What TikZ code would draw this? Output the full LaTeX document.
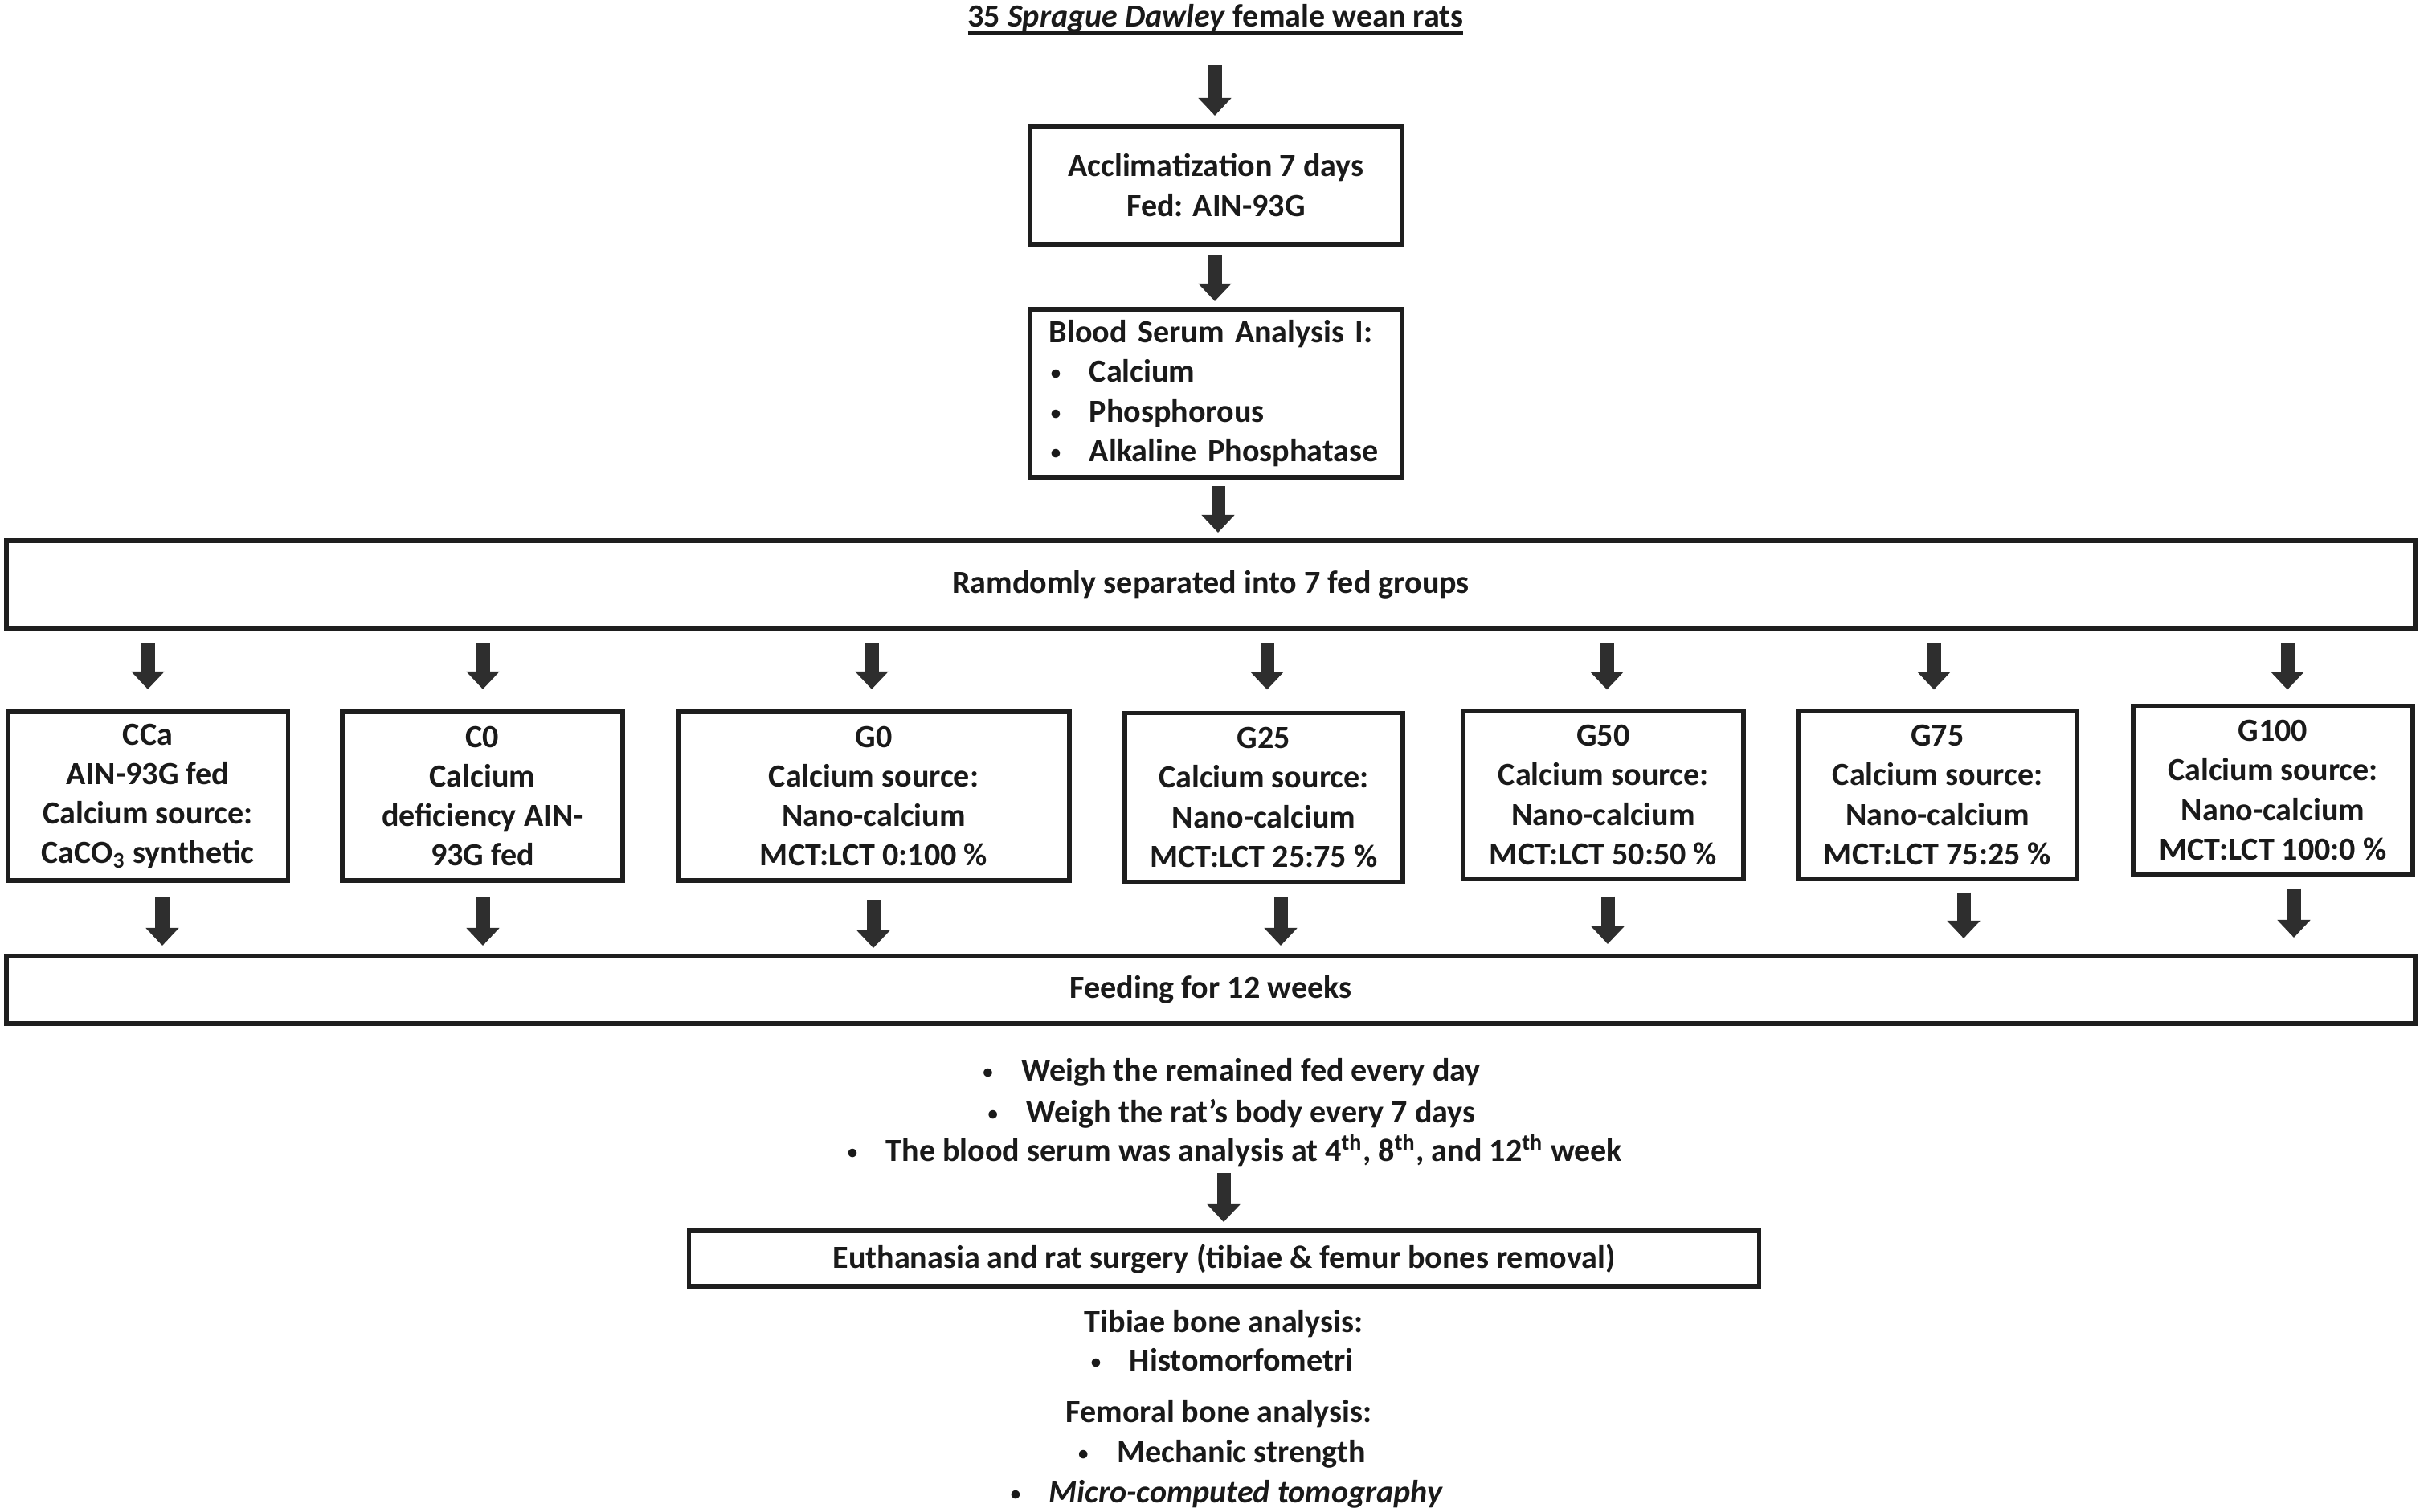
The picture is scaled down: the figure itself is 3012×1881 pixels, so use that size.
\documentclass[tikz,border=0pt]{standalone}
\usepackage{fontspec}
\setmainfont{Carlito}
\usetikzlibrary{arrows.meta}
\definecolor{txt}{HTML}{1A1A1A}
\definecolor{bord}{HTML}{1E1E1E}
\definecolor{arr}{HTML}{2E2E2E}
\newcommand{\bul}{\makebox[0.50cm][l]{\hspace*{0.02cm}\raisebox{0.03cm}{\scalebox{0.62}{•}}}}
\begin{document}
\begin{tikzpicture}[x=0.01cm,y=-0.01cm,
  every node/.style={font=\fontsize{11.4}{14}\selectfont\bfseries, text=txt, inner sep=0pt, outer sep=0pt},
  box/.style={draw=bord, line width=1.6pt, align=center},
  grp/.style={box, minimum width=3.49cm, minimum height=2.10cm},
  blk/.style={draw=arr, line width=0.17cm, -{Triangle[length=0.22cm,width=0.40cm]}},
  line/.style={anchor=base}
]
\useasboundingbox (0,0) rectangle (3012,1881);

% title
\node[line] (t) at (1513,33) {35 \textit{Sprague Dawley} female wean rats};
\draw[draw=txt, line width=1.2pt] ([yshift=-0.08cm]t.base west) -- ([yshift=-0.08cm]t.base east);

% top boxes
\node[box, minimum width=4.63cm, minimum height=1.47cm] (b1) at (1513.5,230.5) {Acclimatization 7 days\\Fed: AIN-93G};
\node[box, minimum width=4.63cm, minimum height=2.09cm, text width=4.15cm, align=left] (b2) at (1513.5,489.5)
  {Blood Serum Analysis I:\\\bul Calcium\\\bul Phosphorous\\\bul Alkaline Phosphatase};
\node[box, minimum width=29.96cm, minimum height=1.09cm] (sep) at (1507,727.5) {Ramdomly separated into 7 fed groups};

% group boxes
\node[grp] (cca) at (184,991) {CCa\\AIN-93G fed\\Calcium source:\\CaCO\textsubscript{3} synthetic};
\node[grp] (c0) at (600.5,991) {C0\\Calcium\\deficiency AIN-\\93G fed};
\node[grp, minimum width=4.87cm] (g0) at (1087.5,991) {G0\\Calcium source:\\Nano-calcium\\MCT:LCT 0:100 \%};
\node[grp, minimum width=3.46cm] (g25) at (1573,992.5) {G25\\Calcium source:\\Nano-calcium\\MCT:LCT 25:75 \%};
\node[grp] (g50) at (1995.5,989.5) {G50\\Calcium source:\\Nano-calcium\\MCT:LCT 50:50 \%};
\node[grp, minimum width=3.47cm] (g75) at (2411.5,989.5) {G75\\Calcium source:\\Nano-calcium\\MCT:LCT 75:25 \%};
\node[grp, minimum width=3.48cm] (g100) at (2829,983.5) {G100\\Calcium source:\\Nano-calcium\\MCT:LCT 100:0 \%};

\node[box, minimum width=29.96cm, minimum height=0.84cm] (feed) at (1507,1232) {Feeding for 12 weeks};

% monitoring list
\node[line] (l1) at (1532,1345) {\bul Weigh the remained fed every day};
\node[line] (l2) at (1532,1397) {\bul Weigh the rat’s body every 7 days};
\node[line] (l3) at (1536,1445) {\bul The blood serum was analysis at 4\textsuperscript{th}, 8\textsuperscript{th}, and 12\textsuperscript{th} week};

\node[box, minimum width=13.31cm, minimum height=0.69cm] (eu) at (1523.5,1566.5) {Euthanasia and rat surgery (tibiae \& femur bones removal)};

\node[line] (tib) at (1523,1658) {Tibiae bone analysis:};
\node[line] (his) at (1520,1706) {\bul Histomorfometri};
\node[line] (fem) at (1517,1770) {Femoral bone analysis:};
\node[line] (mec) at (1520,1820) {\bul Mechanic strength};
\node[line] (mic) at (1526,1870) {\bul \textit{Micro-computed tomography}};

% arrows
\coordinate (a1s) at (1512,81);
\draw[blk, shorten >=0.13cm] (a1s) -- (b1.north -| a1s);
\draw[blk, shorten <=0.13cm, shorten >=0.10cm] (b1.south -| 1512,0) -- (b2.north -| 1512,0);
\draw[blk, shorten <=0.11cm, shorten >=0.10cm] (b2.south -| 1516,0) -- (sep.north -| 1516,0);

\foreach \n/\x/\s in {cca/184/0.28, c0/601/0.28, g0/1085/0.28, g25/1577/0.29, g50/2000/0.26, g75/2407/0.26, g100/2847/0.20}
  \draw[blk, shorten <=0.18cm, shorten >=\s cm] (sep.south -| \x,0) -- (\n.north -| \x,0);

\foreach \n/\x/\a/\b in {cca/202/0.21/0.13, c0/601/0.21/0.13, g0/1087/0.24/0.10, g25/1594/0.19/0.13, g50/2001/0.21/0.15, g75/2444/0.16/0.22, g100/2855/0.17/0.23}
  \draw[blk, shorten <=\a cm, shorten >=\b cm] (\n.south -| \x,0) -- (feed.north -| \x,0);

\coordinate (a6s) at (1523,1460);
\draw[blk, shorten >=0.11cm] (a6s) -- (eu.north -| a6s);
\end{tikzpicture}
\end{document}
